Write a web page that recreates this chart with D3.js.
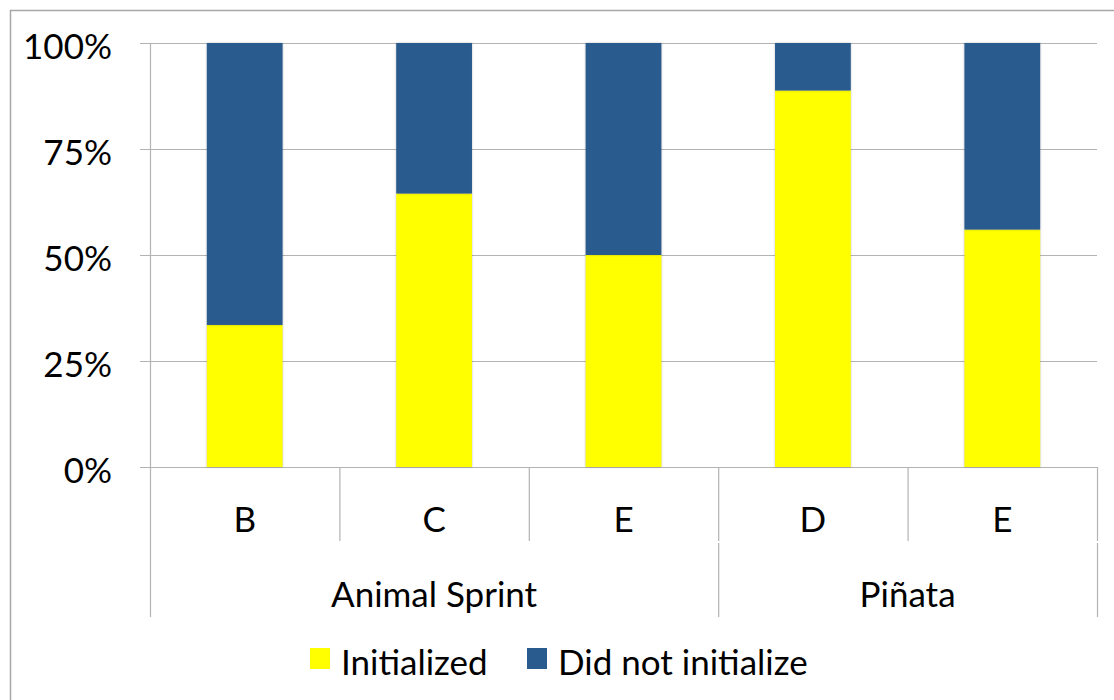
<!DOCTYPE html>
<html lang="en">
<head>
  <meta charset="utf-8"/>
  <title>Initialized by game and variant</title>
  <script src="https://d3js.org/d3.v7.min.js"></script>
  <style>
    body { margin: 0; background: #fff; }
    .lbl { font-family: "Lato", "Open Sans", sans-serif; font-size: 35px; fill: #000; }
  </style>
</head>
<body>
<svg id="chart" width="1114" height="700"></svg>
<script>
  // data
  const categories = ["B", "C", "E", "D", "E"];
  const groups = [
    {name: "Animal Sprint", span: 3},
    {name: "Piñata", span: 2}
  ];
  const initialized = [0.335, 0.645, 0.50, 0.888, 0.56];
  const notInitialized = initialized.map(v => 1 - v);
  const seriesNames = ["Initialized", "Did not initialize"];
  const seriesColors = ["#ffff00", "#2a5b8f"];
  const yTicks = [0, 0.25, 0.5, 0.75, 1];

  const svg = d3.select("#chart");
  const plotL = 150, plotR = 1097, plotT = 43, plotB = 467;

  // outer frame (only left and top edges fall inside the picture)
  svg.append("rect")
    .attr("x", 10.5).attr("y", 10.5)
    .attr("width", 1200).attr("height", 800)
    .attr("fill", "none").attr("stroke", "#a6a6a6").attr("stroke-width", 1.5);

  const x = d3.scaleBand()
    .domain(d3.range(categories.length))
    .range([plotL, plotR])
    .paddingInner(0).paddingOuter(0);

  const y = d3.scaleLinear().domain([0, 1]).range([plotB, plotT]);

  // gridlines
  svg.append("g").selectAll("line")
    .data(yTicks)
    .enter().append("line")
    .attr("x1", plotL - 10).attr("x2", plotR)
    .attr("y1", d => y(d) + 0.5).attr("y2", d => y(d) + 0.5)
    .attr("stroke", "#b3b3b3").attr("stroke-width", 1.2);

  // y labels
  svg.append("g").selectAll("text")
    .data(yTicks)
    .enter().append("text")
    .attr("class", "lbl")
    .attr("x", 112)
    .attr("y", d => y(d) + 16)
    .attr("text-anchor", "end")
    .text(d3.format(".0%"));

  // stacked bars
  const rows = categories.map((c, i) => ({i: i, a: initialized[i], b: notInitialized[i]}));
  const stack = d3.stack().keys(["a", "b"])(rows);
  const barW = x.bandwidth() * 0.4;

  svg.append("g").selectAll("g")
    .data(stack)
    .enter().append("g")
    .attr("fill", (d, k) => seriesColors[k])
    .selectAll("rect")
    .data(d => d)
    .enter().append("rect")
    .attr("x", d => x(d.data.i) + (x.bandwidth() - barW) / 2)
    .attr("width", barW)
    .attr("y", d => y(d[1]))
    .attr("height", d => y(d[0]) - y(d[1]))
    .style("filter", "drop-shadow(0px 0px 1px rgba(0,0,0,0.25))");

  // category axis lines
  const axis = svg.append("g").attr("stroke", "#b3b3b3").attr("stroke-width", 1.2);
  axis.append("line")
    .attr("x1", plotL + 0.5).attr("x2", plotL + 0.5)
    .attr("y1", plotT).attr("y2", 617);

  // dividers between categories (first row)
  d3.range(1, categories.length + 1).forEach(i => {
    const xx = (i === categories.length ? plotR : x(i)) + 0.5;
    axis.append("line")
      .attr("x1", xx).attr("x2", xx)
      .attr("y1", plotB).attr("y2", 541);
  });

  // group dividers (second row)
  let acc = 0;
  const groupPos = groups.map(g => {
    const x0 = x(acc);
    acc += g.span;
    const x1 = acc === categories.length ? plotR : x(acc);
    return {name: g.name, x0: x0, x1: x1};
  });
  groupPos.forEach(g => {
    axis.append("line")
      .attr("x1", g.x1 + 0.5).attr("x2", g.x1 + 0.5)
      .attr("y1", 543).attr("y2", 617);
  });

  // category labels
  svg.append("g").selectAll("text")
    .data(categories)
    .enter().append("text")
    .attr("class", "lbl")
    .attr("x", (d, i) => x(i) + x.bandwidth() / 2)
    .attr("y", 532)
    .attr("text-anchor", "middle")
    .text(d => d);

  // group labels
  svg.append("g").selectAll("text")
    .data(groupPos)
    .enter().append("text")
    .attr("class", "lbl")
    .attr("x", d => (d.x0 + d.x1) / 2)
    .attr("y", 607)
    .attr("text-anchor", "middle")
    .text(d => d.name);

  // legend
  const legendX = [310, 527];
  const lg = svg.append("g");
  seriesNames.forEach((s, k) => {
    lg.append("rect")
      .attr("x", legendX[k]).attr("y", 648)
      .attr("width", 20).attr("height", 21)
      .attr("fill", seriesColors[k]);
    lg.append("text")
      .attr("class", "lbl")
      .attr("x", legendX[k] + 31)
      .attr("y", 675)
      .text(s);
  });
</script>
</body>
</html>
